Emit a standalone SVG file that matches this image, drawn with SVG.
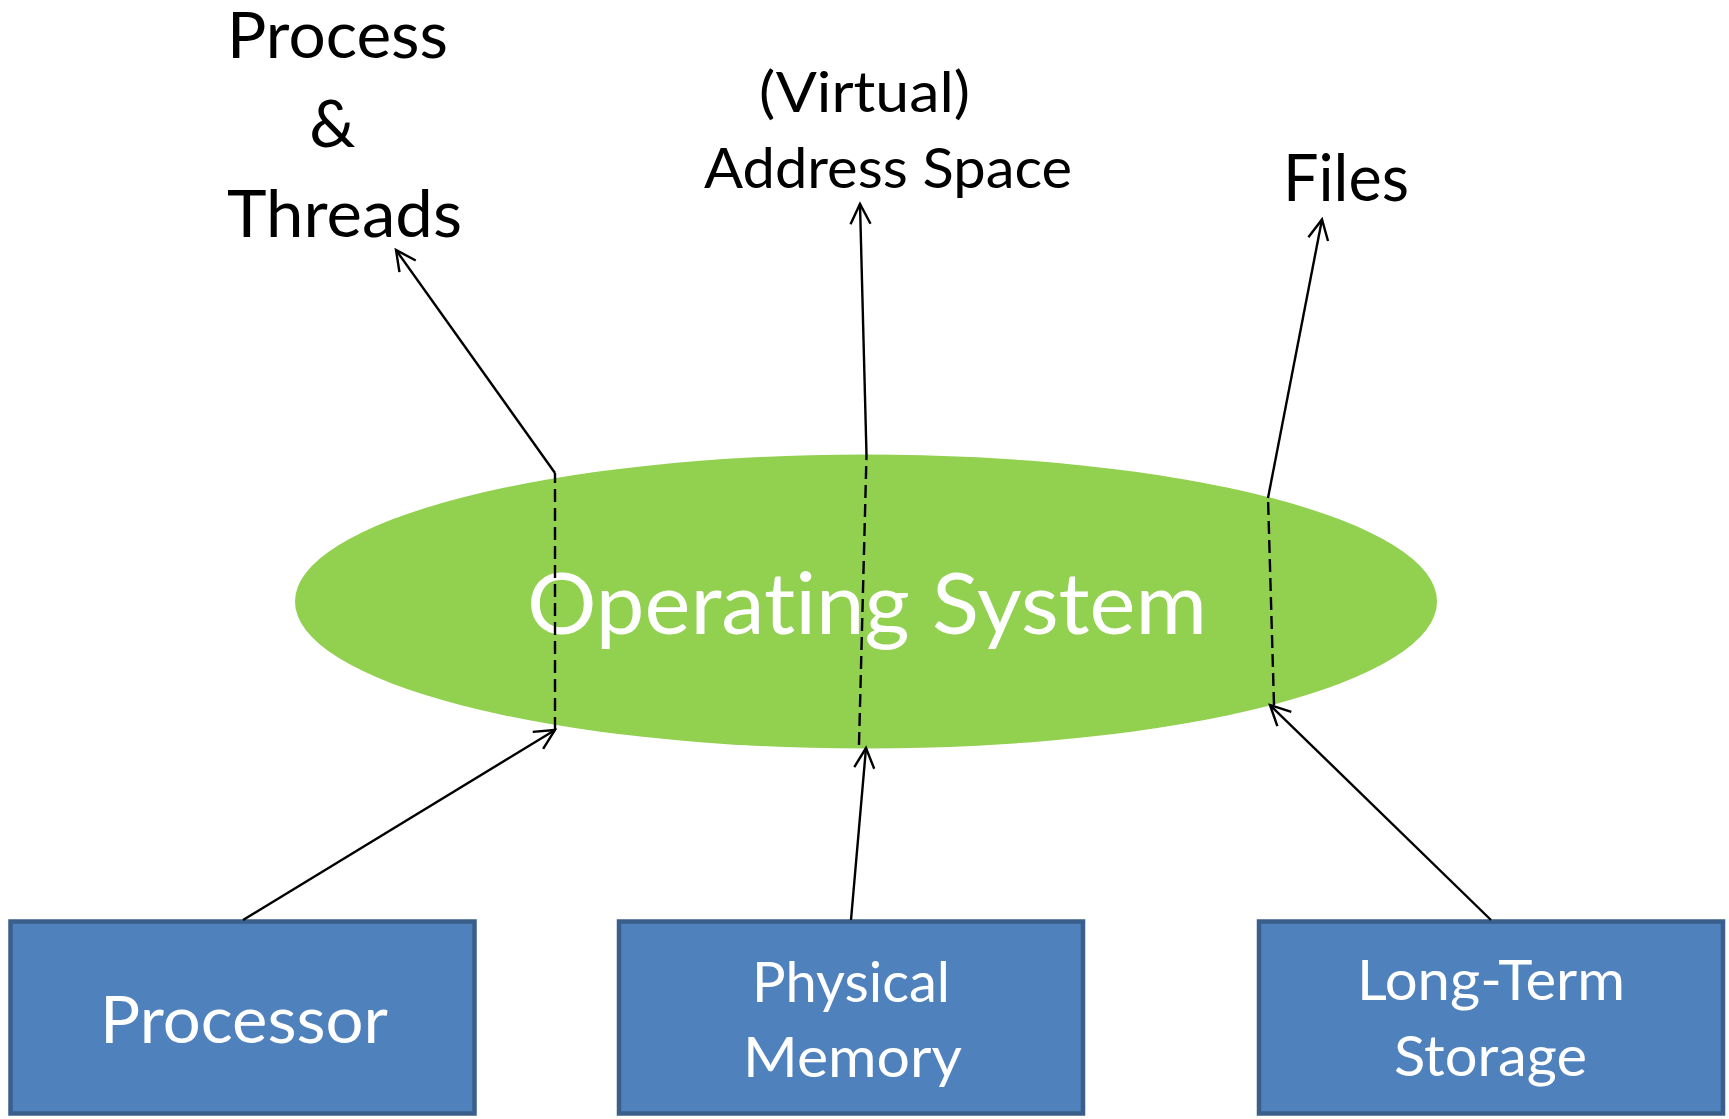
<svg xmlns="http://www.w3.org/2000/svg" width="1729" height="1119" viewBox="0 0 1729 1119">
<style>
.bg{fill:#ffffff}
.box{fill:#4f81bd;stroke:#3a5f8b;stroke-width:4.5}
.os{fill:#92d050}
.lbl{font-family:Lato,"Open Sans","Liberation Sans",sans-serif;fill:#000000;font-variant-ligatures:none}
.wt{font-family:Lato,"Open Sans","Liberation Sans",sans-serif;fill:#ffffff;font-variant-ligatures:none}
.ln{fill:none;stroke:#000000;stroke-width:2.4}
.dash{fill:none;stroke:#000000;stroke-width:2.4;stroke-dasharray:13 6}
</style>
<defs>
<marker id="arr" markerUnits="userSpaceOnUse" markerWidth="30" markerHeight="30" viewBox="-25 -15 30 30" refX="0" refY="0" orient="auto" overflow="visible">
<path d="M -20,-10 L 0,0 L -20,10" fill="none" stroke="#000000" stroke-width="2.4"/>
</marker>
</defs>
<rect class="bg" x="0" y="0" width="1729" height="1119"/>
<g id="os-node">
<ellipse class="os" cx="866" cy="601.5" rx="571" ry="147"/>
<text class="wt" x="527" y="634" font-size="86" textLength="680" lengthAdjust="spacingAndGlyphs">Operating System</text>
</g>
<g id="processor">
<rect class="box" x="10.5" y="921.5" width="464" height="192"/>
<text class="wt" x="100" y="1043" font-size="65" textLength="288" lengthAdjust="spacingAndGlyphs">Processor</text>
</g>
<g id="physical-memory">
<rect class="box" x="619" y="921.5" width="464" height="192"/>
<text class="wt" x="752" y="1001.5" font-size="56" textLength="198" lengthAdjust="spacingAndGlyphs">Physical</text>
<text class="wt" x="743" y="1077" font-size="56" textLength="219" lengthAdjust="spacingAndGlyphs">Memory</text>
</g>
<g id="long-term-storage">
<rect class="box" x="1259" y="921.5" width="464" height="192"/>
<text class="wt" x="1357" y="1000" font-size="56" textLength="268" lengthAdjust="spacingAndGlyphs">Long-Term</text>
<text class="wt" x="1394" y="1076" font-size="56" textLength="193" lengthAdjust="spacingAndGlyphs">Storage</text>
</g>
<g id="process-threads">
<text class="lbl" x="227" y="58" font-size="64" textLength="221" lengthAdjust="spacingAndGlyphs">Process</text>
<text class="lbl" x="332.5" y="147" font-size="65" text-anchor="middle">&amp;</text>
<text class="lbl" x="227" y="237" font-size="65" textLength="235" lengthAdjust="spacingAndGlyphs">Threads</text>
</g>
<g id="address-space">
<text class="lbl" x="759" y="112" font-size="57" textLength="211" lengthAdjust="spacingAndGlyphs">(Virtual)</text>
<text class="lbl" x="704" y="188" font-size="57" textLength="368" lengthAdjust="spacingAndGlyphs">Address Space</text>
</g>
<g id="files">
<text class="lbl" x="1283" y="201" font-size="65" textLength="126" lengthAdjust="spacingAndGlyphs">Files</text>
</g>
<g id="connectors">
<line class="ln" x1="243" y1="920" x2="555" y2="730" marker-end="url(#arr)"/>
<line class="dash" x1="555" y1="730" x2="555" y2="473"/>
<line class="ln" x1="555" y1="473" x2="396" y2="250" marker-end="url(#arr)"/>
<line class="ln" x1="851" y1="920" x2="866" y2="748" marker-end="url(#arr)"/>
<line class="dash" x1="859" y1="745" x2="866.5" y2="455"/>
<line class="ln" x1="866.5" y1="455" x2="860" y2="204" marker-end="url(#arr)"/>
<line class="ln" x1="1491" y1="920" x2="1270" y2="705" marker-end="url(#arr)"/>
<line class="dash" x1="1274" y1="705" x2="1268" y2="498"/>
<line class="ln" x1="1268" y1="498" x2="1322" y2="219.5" marker-end="url(#arr)"/>
</g>
</svg>
